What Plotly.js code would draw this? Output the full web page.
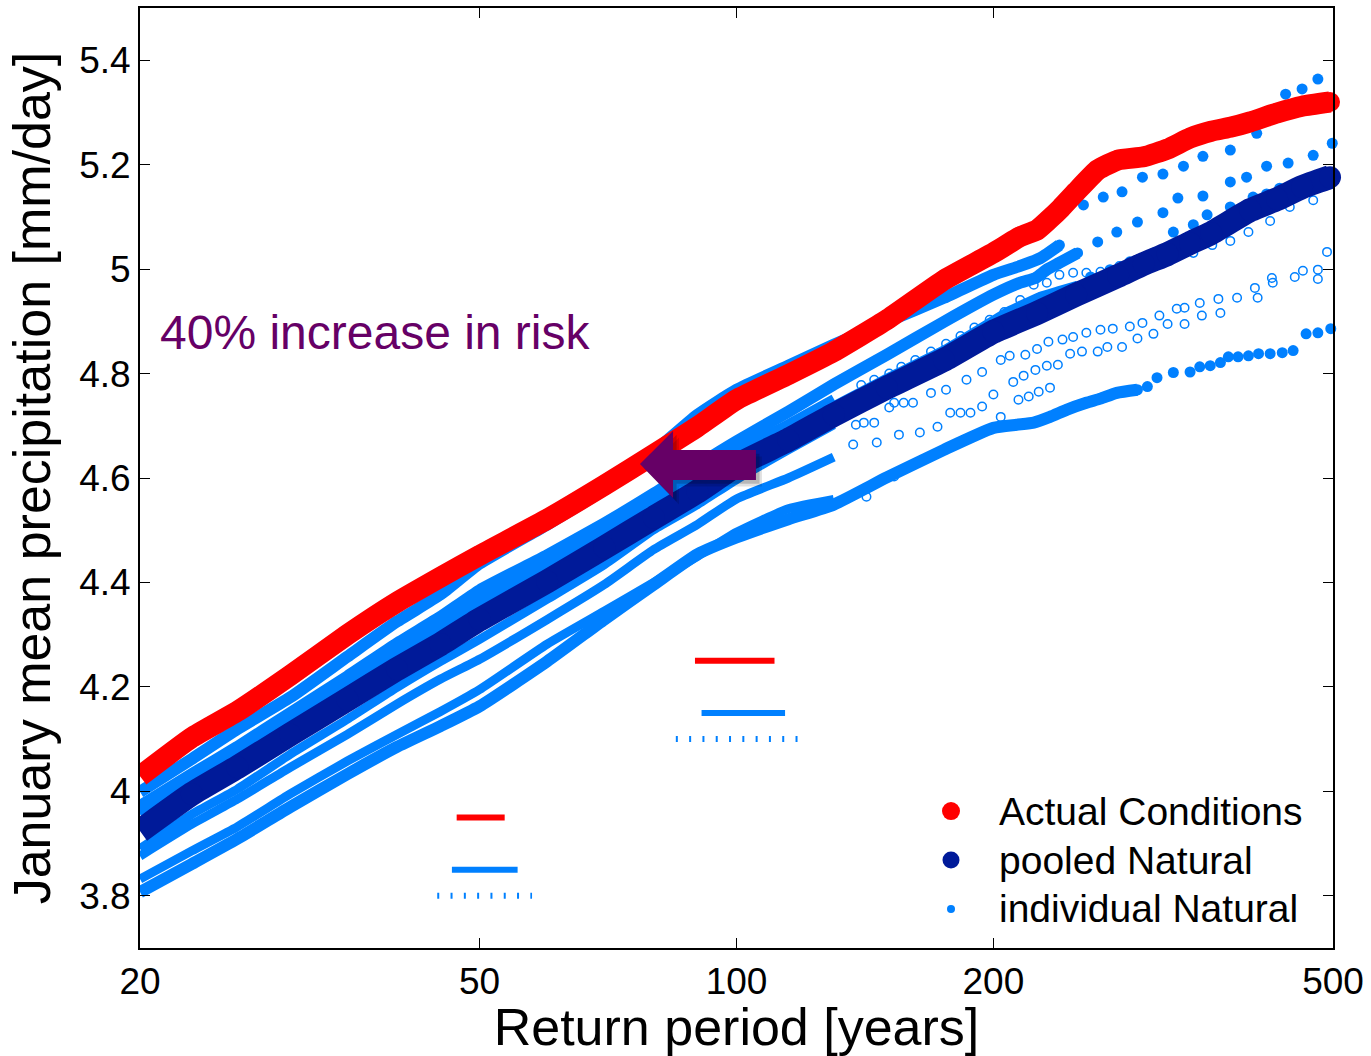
<!DOCTYPE html>
<html>
<head>
<meta charset="utf-8">
<script src="https://cdn.plot.ly/plotly-3.0.1.min.js"></script>
<style>
  html, body { margin: 0; padding: 0; background: #fff; }
  #chart { width: 1371px; height: 1056px; }
</style>
</head>
<body>
<div id="chart"></div>
<script>
// Return periods (years) where the densely sampled part of each curve is listed
const returnPeriod = [20, 23, 26, 30, 35, 40, 45, 50, 60, 70, 80, 90, 100, 115, 130, 150, 175, 200];

// Actual conditions (all-forcings ensemble), January mean precipitation [mm/day]
const actualDense = [4.029, 4.103, 4.153, 4.222, 4.300, 4.362, 4.410, 4.452, 4.521, 4.586, 4.645, 4.698, 4.750, 4.798, 4.842, 4.903, 4.979, 5.031];
const actualTailT = [215, 225, 232, 240, 250, 265, 280, 300, 320, 340, 360, 380, 400, 430, 460, 496];
const actualTail  = [5.062, 5.075, 5.094, 5.117, 5.148, 5.190, 5.209, 5.215, 5.230, 5.251, 5.264, 5.272, 5.282, 5.299, 5.312, 5.320];

// Pooled natural ensemble
const pooledDense = [3.924, 3.995, 4.046, 4.109, 4.176, 4.234, 4.282, 4.329, 4.402, 4.467, 4.524, 4.574, 4.624, 4.673, 4.721, 4.773, 4.826, 4.880];
const pooledTailT = [225, 250, 280, 300, 320, 340, 360, 400, 430, 460, 496];
const pooledTail  = [4.916, 4.951, 4.987, 5.010, 5.029, 5.050, 5.069, 5.113, 5.134, 5.157, 5.176];

// Individual natural ensembles: values at the first returnPeriod entries, then sparse upper points
const memberA = [3.999, 4.062, 4.119, 4.180, 4.258, 4.325, 4.377, 4.436, 4.511, 4.578, 4.650, 4.721, 4.769, 4.815, 4.855, 4.899, 4.945, 4.989];
const memberATailT = [215, 227, 239, 255, 269, 283, 299, 316, 334, 352, 379, 407, 440, 460, 480];
const memberATail  = [5.006, 5.021, 5.046, 5.123, 5.138, 5.148, 5.176, 5.182, 5.197, 5.216, 5.228, 5.260, 5.335, 5.345, 5.364];

const memberB = [3.972, 4.033, 4.085, 4.150, 4.220, 4.283, 4.334, 4.385, 4.452, 4.513, 4.570, 4.624, 4.670, 4.727, 4.779, 4.836, 4.899, 4.951];
const memberBTailT = [215, 224, 231, 239, 251, 265, 279, 295, 316, 329, 352, 379, 396, 418, 443, 474, 499];
const memberBTail  = [4.974, 4.983, 4.999, 5.012, 5.031, 5.052, 5.071, 5.090, 5.108, 5.136, 5.140, 5.167, 5.176, 5.197, 5.203, 5.218, 5.241];

const memberC = [3.956, 4.018, 4.069, 4.134, 4.203, 4.262, 4.310, 4.356, 4.423, 4.484, 4.540, 4.589, 4.637, 4.689, 4.735, 4.788, 4.842, 4.899];
const memberCTailT = [209, 218, 227, 239, 251, 260, 274, 289, 308, 325, 343, 356, 379, 403, 418, 433];
const memberCTail  = [4.918, 4.932, 4.945, 4.956, 4.966, 4.985, 4.999, 5.014, 5.031, 5.071, 5.085, 5.104, 5.119, 5.138, 5.144, 5.155];

const memberD = [3.964, 4.025, 4.077, 4.146, 4.217, 4.276, 4.325, 4.371, 4.438, 4.499, 4.555, 4.605, 4.652, 4.704, 4.752];
const memberDTailT = [140, 145, 151, 156, 162, 169, 176, 183, 190, 198, 206, 215, 223, 231, 239, 248, 257, 267, 281, 297, 313, 328, 343, 361, 379, 398, 422, 445, 474];
const memberDTail  = [4.778, 4.788, 4.800, 4.813, 4.826, 4.842, 4.857, 4.872, 4.888, 4.903, 4.918, 4.941, 4.970, 4.974, 4.989, 4.993, 4.993, 4.995, 5.006, 5.014, 5.021, 5.027, 5.031, 5.046, 5.054, 5.071, 5.092, 5.119, 5.132];

const memberE = [3.890, 3.956, 4.004, 4.071, 4.138, 4.199, 4.249, 4.291, 4.368, 4.434, 4.501, 4.549, 4.597, 4.654, 4.702];
const memberETailT = [138, 141, 145, 151, 153, 157, 161, 169, 176, 186, 194, 204, 209, 218, 225, 232, 241, 248, 257, 267, 276, 289, 299, 313, 328, 335, 349, 367, 405, 424, 451, 461, 480, 492];
const memberETail  = [4.702, 4.706, 4.706, 4.735, 4.744, 4.744, 4.744, 4.763, 4.769, 4.788, 4.803, 4.826, 4.834, 4.836, 4.847, 4.861, 4.865, 4.870, 4.878, 4.884, 4.886, 4.890, 4.897, 4.911, 4.924, 4.926, 4.935, 4.943, 4.964, 4.983, 4.985, 4.997, 4.999, 5.033];

const memberF = [3.876, 3.937, 3.985, 4.046, 4.109, 4.167, 4.215, 4.253, 4.329, 4.396, 4.463, 4.511, 4.560, 4.600, 4.640];
const memberFTailT = [137, 146, 155, 164, 172, 178, 183, 188, 194, 200, 211, 217, 224, 231, 238, 246, 254, 265, 272, 283, 295, 308, 320, 335, 351, 369, 386, 408, 425, 480];
const memberFTail  = [4.664, 4.668, 4.683, 4.687, 4.698, 4.725, 4.725, 4.725, 4.737, 4.760, 4.784, 4.796, 4.807, 4.815, 4.817, 4.838, 4.842, 4.842, 4.851, 4.851, 4.867, 4.876, 4.895, 4.895, 4.911, 4.916, 4.945, 4.945, 4.974, 4.981];

const memberG = [3.832, 3.886, 3.932, 3.995, 4.058, 4.109, 4.153, 4.195, 4.282, 4.345, 4.400, 4.450, 4.496, 4.541, 4.559];
const memberGTailT = [142, 153, 163, 175, 186, 204, 214, 220, 226, 233];
const memberGTail  = [4.564, 4.603, 4.629, 4.654, 4.673, 4.717, 4.750, 4.756, 4.765, 4.773];

const memberH = [3.807, 3.861, 3.909, 3.970, 4.033, 4.085, 4.125, 4.163, 4.249, 4.329, 4.396, 4.454, 4.486, 4.521, 4.549, 4.601, 4.654, 4.696];
const memberHTailT = [213, 223, 233, 244, 257, 267, 279, 295, 303, 311, 325, 340, 349, 359, 369, 377, 387, 398, 409, 422, 436, 449, 465, 480, 497];
const memberHTail  = [4.702, 4.706, 4.717, 4.731, 4.744, 4.752, 4.763, 4.769, 4.775, 4.792, 4.802, 4.803, 4.813, 4.815, 4.821, 4.832, 4.832, 4.834, 4.838, 4.838, 4.840, 4.844, 4.876, 4.878, 4.886];

// Return-period ranges of the observed event: [low, high] and the level they are drawn at
const rangeActual      = [[47.0, 53.5], [89.4, 110.8]];
const rangeActualY     = [3.95, 4.25];
const rangePooled      = [[46.4, 55.4], [91.0, 114.0]];
const rangePooledY     = [3.85, 4.15];
const rangeIndividual  = [[44.6, 57.6], [84.9, 118.0]];
const rangeIndividualY = [3.80, 4.10];

// Axis ticks
const xTicks = [20, 50, 100, 200, 500];
const yTicks = [3.8, 4.0, 4.2, 4.4, 4.6, 4.8, 5.0, 5.2, 5.4];
const yTickText = ['3.8', '4', '4.2', '4.4', '4.6', '4.8', '5', '5.2', '5.4'];

// ---------------------------------------------------------------------------
const RED = 'rgb(255,0,0)';
const NAVY = 'rgb(0,26,153)';
const LIGHT = 'rgb(0,128,255)';
const PURPLE = 'rgb(102,0,102)';
const FONT = 'Liberation Sans, Arial, Helvetica, sans-serif';

// filled members keep a continuous band a little into their upper tail
const members = [
  { band: memberH, tT: memberHTailT, t: memberHTail, filled: true,  joinUpTo: 300 },
  { band: memberG, tT: memberGTailT, t: memberGTail, filled: false, joinUpTo: 0 },
  { band: memberF, tT: memberFTailT, t: memberFTail, filled: false, joinUpTo: 0 },
  { band: memberE, tT: memberETailT, t: memberETail, filled: false, joinUpTo: 0 },
  { band: memberD, tT: memberDTailT, t: memberDTail, filled: false, joinUpTo: 0 },
  { band: memberC, tT: memberCTailT, t: memberCTail, filled: true,  joinUpTo: 255 },
  { band: memberB, tT: memberBTailT, t: memberBTail, filled: true,  joinUpTo: 255 },
  { band: memberA, tT: memberATailT, t: memberATail, filled: true,  joinUpTo: 240 }
];

const traces = [];

members.forEach(m => {
  const bx = returnPeriod.slice(0, m.band.length);
  const by = m.band.slice();
  m.tT.forEach((T, i) => { if (T <= m.joinUpTo) { bx.push(T); by.push(m.t[i]); } });
  // densely sampled part: overlapping markers read as a band
  traces.push({
    type: 'scatter', mode: 'lines', x: bx, y: by,
    line: { color: LIGHT, width: m.filled ? 12 : 9, shape: 'spline', smoothing: 0.5 },
    showlegend: false, hoverinfo: 'skip', cliponaxis: false
  });
  // sparse upper tail: individual points
  traces.push({
    type: 'scatter', mode: 'markers', x: m.tT, y: m.t,
    marker: m.filled
      ? { color: LIGHT, size: 11, symbol: 'circle' }
      : { color: LIGHT, size: 8.5, symbol: 'circle-open', line: { color: LIGHT, width: 1.5 } },
    showlegend: false, cliponaxis: false
  });
});

function heavySeries(dense, tailT, tail, color, lw, ms) {
  traces.push({
    type: 'scatter', mode: 'lines+markers',
    x: returnPeriod.concat(tailT), y: dense.concat(tail),
    line: { color: color, width: lw, shape: 'spline', smoothing: 0.4 },
    marker: { color: color, size: ms },
    showlegend: false, cliponaxis: false
  });
}
heavySeries(pooledDense, pooledTailT, pooledTail, NAVY, 24, 22);
heavySeries(actualDense, actualTailT, actualTail, RED, 21, 20);

function rangeBars(ranges, levels, color, dash) {
  ranges.forEach((r, i) => {
    traces.push({
      type: 'scatter', mode: 'lines', x: r, y: [levels[i], levels[i]],
      line: { color: color, width: 6, dash: dash },
      showlegend: false, hoverinfo: 'skip'
    });
  });
}
rangeBars(rangeActual, rangeActualY, RED, 'solid');
rangeBars(rangePooled, rangePooledY, LIGHT, 'solid');
rangeBars(rangeIndividual, rangeIndividualY, LIGHT, '2px,11.3px');

// Block arrow (paper coordinates) pointing from the natural to the actual curve
function arrowPath(dx, dy) {
  const p = [[0.4191, 0.5149], [0.4468, 0.5500], [0.4468, 0.5298], [0.5163, 0.5298],
             [0.5163, 0.4979], [0.4468, 0.4979], [0.4468, 0.4787]];
  return 'M ' + p.map(q => (q[0] + dx).toFixed(4) + ',' + (q[1] + dy).toFixed(4)).join(' L ') + ' Z';
}

const legendItems = [
  { label: 'Actual Conditions', color: RED, r: 9, y: 0.1457 },
  { label: 'pooled Natural', color: NAVY, r: 8.5, y: 0.0936 },
  { label: 'individual Natural', color: LIGHT, r: 4, y: 0.0415 }
];

const shapes = [
  { type: 'path', xref: 'paper', yref: 'paper', path: arrowPath(0.0050, -0.0070),
    fillcolor: 'rgba(0,0,0,0.12)', line: { width: 0 }, layer: 'above' },
  { type: 'path', xref: 'paper', yref: 'paper', path: arrowPath(0.0030, -0.0040),
    fillcolor: 'rgba(0,0,0,0.18)', line: { width: 0 }, layer: 'above' },
  { type: 'path', xref: 'paper', yref: 'paper', path: arrowPath(0, 0),
    fillcolor: PURPLE, line: { width: 0 }, layer: 'above' }
];
legendItems.forEach(it => {
  shapes.push({
    type: 'circle', xref: 'paper', yref: 'paper', xsizemode: 'pixel', ysizemode: 'pixel',
    xanchor: 0.6798, yanchor: it.y, x0: -it.r, x1: it.r, y0: -it.r, y1: it.r,
    fillcolor: it.color, line: { width: 0 }, layer: 'above'
  });
});

const annotations = [
  { xref: 'paper', yref: 'paper', x: 0.0150, y: 0.6543, xanchor: 'left', yanchor: 'middle',
    text: '40% increase in risk', showarrow: false, font: { family: FONT, size: 48, color: PURPLE } }
];
legendItems.forEach(it => {
  annotations.push({
    xref: 'paper', yref: 'paper', x: 0.7184, y: it.y, xanchor: 'left', yanchor: 'middle',
    text: it.label, showarrow: false, font: { family: FONT, size: 39, color: '#000' }
  });
});

const layout = {
  width: 1371, height: 1056,
  margin: { l: 140, r: 38, t: 8, b: 108 },
  paper_bgcolor: '#fff', plot_bgcolor: '#fff',
  font: { family: FONT, color: '#000' },
  showlegend: false,
  xaxis: {
    type: 'log', range: [Math.log10(20), Math.log10(500)],
    tickvals: xTicks, ticktext: xTicks.map(String),
    ticks: 'inside', ticklen: 10, tickwidth: 1, tickcolor: '#000',
    showline: true, linewidth: 2, linecolor: '#000', mirror: 'ticks',
    showgrid: false, zeroline: false,
    tickfont: { family: FONT, size: 37, color: '#000' },
    title: { text: 'Return period [years]', font: { family: FONT, size: 52, color: '#000' }, standoff: 9 }
  },
  yaxis: {
    range: [3.7, 5.5],
    tickvals: yTicks, ticktext: yTickText,
    ticks: 'inside', ticklen: 10, tickwidth: 1, tickcolor: '#000',
    showline: true, linewidth: 2, linecolor: '#000', mirror: 'ticks',
    showgrid: false, zeroline: false,
    tickfont: { family: FONT, size: 37, color: '#000' },
    title: { text: 'January mean precipitation [mm/day]', font: { family: FONT, size: 52, color: '#000' }, standoff: 12 }
  },
  shapes: shapes,
  annotations: annotations
};

Plotly.newPlot('chart', traces, layout, { displayModeBar: false, staticPlot: true });
</script>
</body>
</html>
